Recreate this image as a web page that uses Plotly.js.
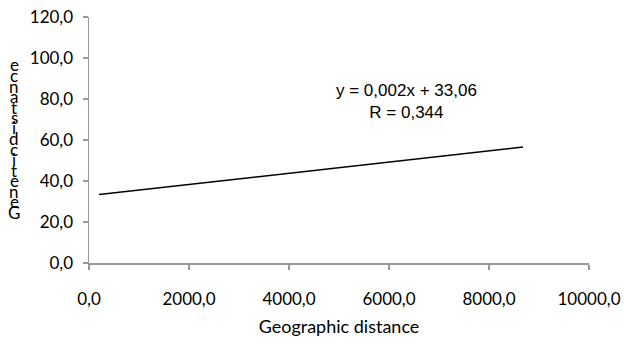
<!DOCTYPE html>
<html><head><meta charset="utf-8">
<script src="https://cdn.plot.ly/plotly-3.0.1.min.js"></script>
<style>body{margin:0;background:#fff}#c{width:624px;height:347px}</style>
</head><body><div id="c"></div>
<script>
const lineX = [200, 8680];
const lineY = [33.4, 56.6];
const xTicks = [0, 2000, 4000, 6000, 8000, 10000];
const yTicks = [0, 20, 40, 60, 80, 100, 120];
const xTitle = "Geographic distance";
const yTitle = "Genetic distance";
const eqLines = ["y = 0,002x + 33,06", "R = 0,344"];

const ann = [{
  x: 6350, y: 78.7, xref: 'x', yref: 'y', showarrow: false,
  text: eqLines.join('<br>'), align: 'center',
  font: {family: 'Liberation Sans, Arial', size: 17, color: '#000'}
}];
// stacked vertical y title letters (bottom to top)
const letters = yTitle.split('').filter(c => c !== ' ');
const plotL = 89, plotW = 500, plotB = 263, plotH = 246;
const yBottom = 212, step = 10.5;
letters.forEach((ch, i) => {
  ann.push({
    x: (14 - plotL)/plotW, y: (plotB - (yBottom - i*step))/plotH,
    xref: 'paper', yref: 'paper',
    showarrow: false, text: ch, xanchor: 'center', yanchor: 'middle',
    font: {family: 'Lato, Carlito, sans-serif', size: 17, color: '#000'}
  });
});

Plotly.newPlot('c', [{
  x: lineX, y: lineY, mode: 'lines', type: 'scatter',
  line: {color: '#000', width: 1.5}, showlegend: false, hoverinfo: 'skip'
}], {
  width: 624, height: 347,
  margin: {l: 89, r: 35, t: 17, b: 84},
  paper_bgcolor: '#fff', plot_bgcolor: '#fff',
  separators: ', ',
  font: {family: 'Lato, Carlito, sans-serif', size: 17, color: '#000'},
  xaxis: {
    range: [0, 10000], tickvals: xTicks, tickformat: '.1f',
    showgrid: false, zeroline: false, showline: true, linecolor: '#999', linewidth: 1.5,
    ticks: 'outside', ticklen: 5, tickcolor: '#999', tickwidth: 1.5,
    ticklabelstandoff: 15,
    title: {text: xTitle, font: {size: 18}, standoff: 12}
  },
  yaxis: {
    range: [0, 120], tickvals: yTicks, tickformat: '.1f',
    showgrid: false, zeroline: false, showline: true, linecolor: '#999', linewidth: 1.5,
    ticks: 'outside', ticklen: 5, tickcolor: '#999', tickwidth: 1.5,
    ticklabelstandoff: 6
  },
  annotations: ann
}, {staticPlot: true});
</script></body></html>
